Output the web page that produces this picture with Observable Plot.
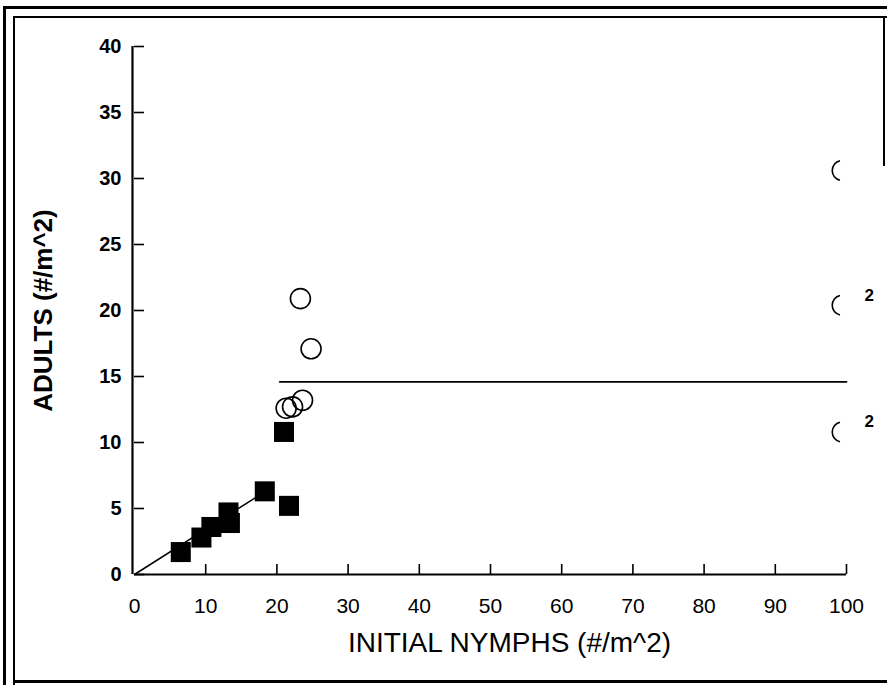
<!DOCTYPE html>
<html>
<head>
<meta charset="utf-8">
<script src="https://cdn.jsdelivr.net/npm/d3@7"></script>
<script src="https://cdn.jsdelivr.net/npm/@observablehq/plot@0.6"></script>
<style>
  html, body { margin: 0; padding: 0; background: #fff; }
  #wrap { position: relative; width: 887px; height: 685px; overflow: hidden; }
  .b { position: absolute; background: #000; }
</style>
</head>
<body>
<div id="wrap">
  <div id="chart"></div>
  <div class="b" style="left:3px; top:6px; width:884px; height:3px;"></div>
  <div class="b" style="left:13px; top:16px; width:874px; height:2px;"></div>
  <div class="b" style="left:3px; top:6px; width:3px; height:679px;"></div>
  <div class="b" style="left:13px; top:16px; width:2px; height:669px;"></div>
  <div class="b" style="left:13px; top:680px; width:874px; height:3px;"></div>
  <div class="b" style="left:883px; top:16px; width:2px; height:150px;"></div>
</div>
<script>
// Filled squares (field observations)
const squareX = [6.5, 9.4, 10.8, 13.2, 13.4, 18.3, 21.0, 21.7];
const squareY = [1.7, 2.8, 3.6, 4.7, 3.9, 6.3, 10.8, 5.2];
// Open circles
const circleX = [23.3, 24.8, 21.3, 22.2, 23.6];
const circleY = [20.9, 17.1, 12.6, 12.7, 13.2];
// Clipped circles at the right edge, with count notes
const edgeX = [99.4, 99.4, 99.4];
const edgeY = [30.6, 20.4, 10.8];
const edgeNote = ["", "2", "2"];
// Fitted lines
const fitX = [0, 17.5];
const fitY = [0, 6.0];
const plateauX = [20.4, 100];
const plateauY = [14.6, 14.6];
// Ticks
const xTicks = [0, 10, 20, 30, 40, 50, 60, 70, 80, 90, 100];
const yTicks = [0, 5, 10, 15, 20, 25, 30, 35, 40];
const xTitle = "INITIAL NYMPHS (#/m^2)";
const yTitle = "ADULTS (#/m^2)";

const squares = squareX.map((x, i) => ({x, y: squareY[i]}));
const circles = circleX.map((x, i) => ({x, y: circleY[i]}));
const edges = edgeX.map((x, i) => ({x, y: edgeY[i], note: edgeNote[i]}));
const fit = fitX.map((x, i) => ({x, y: fitY[i]}));
const plateau = plateauX.map((x, i) => ({x, y: plateauY[i]}));

const leftArc = {
  draw(context, size) {
    const r = Math.sqrt(size / Math.PI);
    const a = 77 * Math.PI / 180;
    context.moveTo(r * Math.cos(Math.PI - a), -r * Math.sin(Math.PI - a));
    context.arc(0, 0, r, -(Math.PI - a), Math.PI - a, true);
  }
};

const chart = Plot.plot({
  width: 887,
  height: 685,
  marginLeft: 134,
  marginRight: 41,
  marginTop: 46,
  marginBottom: 111,
  style: {fontFamily: "'Liberation Sans', Arial, sans-serif", background: "white", color: "black"},
  x: {domain: [0, 100]},
  y: {domain: [0, 40]},
  marks: [
    Plot.axisY({ticks: yTicks, tickSize: -10, tickPadding: 23, fontSize: 20, fontWeight: "bold", strokeWidth: 1.6, label: null}),
    Plot.axisX({ticks: xTicks, tickSize: -10, tickPadding: 34, fontSize: 21, strokeWidth: 1.6, label: null, filter: d => d > 0}),
    Plot.axisX({ticks: [0], tickSize: 0, tickPadding: 24, fontSize: 21, label: null}),
    Plot.ruleX([0], {stroke: "black", strokeWidth: 2.2, dx: -2}),
    Plot.ruleY([0], {stroke: "black", strokeWidth: 2.2}),
    Plot.line(fit, {x: "x", y: "y", stroke: "black", strokeWidth: 1.5}),
    Plot.line(plateau, {x: "x", y: "y", stroke: "black", strokeWidth: 1.8}),
    Plot.dot(circles, {x: "x", y: "y", r: 10, stroke: "black", strokeWidth: 1.6, fill: "none"}),
    Plot.dot(squares, {x: "x", y: "y", symbol: "square", r: 11.3, fill: "black", stroke: "none"}),
    Plot.dot(edges, {x: "x", y: "y", symbol: leftArc, r: 10, stroke: "black", strokeWidth: 1.6, fill: "none"}),
    Plot.text(edges, {x: "x", y: "y", text: "note", dx: 27, dy: -10, fontSize: 17, fontWeight: "bold", fill: "black"}),
    Plot.text([xTitle], {frameAnchor: "bottom", textAnchor: "middle", lineAnchor: "middle", dy: 69, dx: 19, fontSize: 28, fill: "black"}),
    Plot.text([yTitle], {frameAnchor: "left", textAnchor: "middle", lineAnchor: "middle", dx: -91, rotate: -90, fontSize: 26, fontWeight: "bold", fill: "black"})
  ]
});
document.getElementById("chart").appendChild(chart);
</script>
</body>
</html>
